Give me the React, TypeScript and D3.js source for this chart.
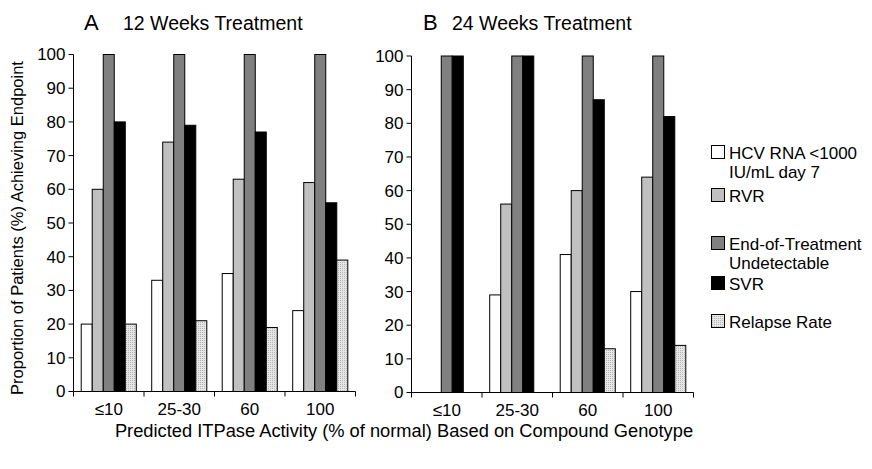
import React from "react";
import * as d3 from "d3";

const categories = ["≤10", "25-30", "60", "100"];
const seriesNames = ["HCV RNA <1000 IU/mL day 7", "RVR", "End-of-Treatment Undetectable", "SVR", "Relapse Rate"];
const legendLines = [["HCV RNA <1000", "IU/mL day 7"], ["RVR"], ["End-of-Treatment", "Undetectable"], ["SVR"], ["Relapse Rate"]];
const fills = ["#ffffff", "#c0c0c0", "#808080", "#000000", "url(#dots)"];

// values per series, per category (null = no bar)
const week12HCV = [20, 33, 35, 24];
const week12RVR = [60, 74, 63, 62];
const week12EOT = [100, 100, 100, 100];
const week12SVR = [80, 79, 77, 56];
const week12Relapse = [20, 21, 19, 39];

const week24HCV: (number | null)[] = [null, 29, 41, 30];
const week24RVR: (number | null)[] = [null, 56, 60, 64];
const week24EOT = [100, 100, 100, 100];
const week24SVR = [100, 100, 87, 82];
const week24Relapse: (number | null)[] = [null, null, 13, 14];

const yTicks = [0, 10, 20, 30, 40, 50, 60, 70, 80, 90, 100];

const font = "Arial, 'Liberation Sans', sans-serif";

function Panel({ x0, yTop, yBottom, data, letter, title, letterX, titleX }: any) {
  const x = d3.scaleBand().domain(categories).range([x0, x0 + 282]).padding(0);
  const inner = d3.scaleBand().domain(seriesNames).range([0, x.bandwidth()]).paddingInner(0).paddingOuter(0.7);
  const y = d3.scaleLinear().domain([0, 100]).range([yBottom, yTop]);
  const edges = [...categories.map((c) => x(c)!), x0 + 282];
  return (
    <g>
      <text x={letterX} y={30} fontSize={22} fontFamily={font}>{letter}</text>
      <text x={titleX} y={30} fontSize={19.5} fontFamily={font}>{title}</text>
      {categories.map((c, ci) =>
        seriesNames.map((s, si) => {
          const v = data[si][ci];
          if (v === null || v === undefined) return null;
          return (
            <rect
              key={c + s}
              x={x(c)! + inner(s)!}
              y={y(v)}
              width={inner.bandwidth()}
              height={y(0) - y(v)}
              fill={fills[si]}
              stroke="#000"
              strokeWidth={1}
            />
          );
        })
      )}
      <line x1={x0} x2={x0} y1={yTop} y2={yBottom} stroke="#000" />
      <line x1={x0} x2={x0 + 282} y1={yBottom} y2={yBottom} stroke="#000" />
      {yTicks.map((t) => (
        <g key={t}>
          <line x1={x0 - 5} x2={x0} y1={y(t)} y2={y(t)} stroke="#000" />
          <text x={x0 - 8} y={y(t)} dy="0.35em" textAnchor="end" fontSize={17} fontFamily={font}>{t}</text>
        </g>
      ))}
      {edges.map((e, i) => (
        <line key={i} x1={e} x2={e} y1={yBottom} y2={yBottom + 5} stroke="#000" />
      ))}
      {categories.map((c) => (
        <text key={c} x={x(c)! + x.bandwidth() / 2} y={yBottom + 23} textAnchor="middle" fontSize={17} fontFamily={font}>{c}</text>
      ))}
    </g>
  );
}

export default function App() {
  const dataA = [week12HCV, week12RVR, week12EOT, week12SVR, week12Relapse];
  const dataB = [week24HCV, week24RVR, week24EOT, week24SVR, week24Relapse];
  const legendY = [159, 202, 250, 290, 328];
  return (
    <svg width={872} height={469} style={{ position: "absolute", left: 0, top: 0 }}>
      <defs>
        <pattern id="dots" width={2} height={2} patternUnits="userSpaceOnUse">
          <rect width={2} height={2} fill="#e6e6e6" />
          <rect width={1} height={1} fill="#b4b4b4" />
        </pattern>
      </defs>
      <rect width={872} height={469} fill="#fff" />
      <Panel x0={73.5} yTop={54.5} yBottom={391.5} data={dataA} letter="A" title="12 Weeks Treatment" letterX={84} titleX={123} />
      <Panel x0={411.5} yTop={56} yBottom={392.5} data={dataB} letter="B" title="24 Weeks Treatment" letterX={423} titleX={452} />
      <text transform="translate(23,228) rotate(-90)" textAnchor="middle" fontSize={16.5} fontFamily={font}>
        Proportion of Patients (%) Achieving Endpoint
      </text>
      <text x={404} y={437} textAnchor="middle" fontSize={18.3} fontFamily={font}>
        Predicted ITPase Activity (% of normal) Based on Compound Genotype
      </text>
      {legendLines.map((lines, i) => (
        <g key={i}>
          <rect x={711.5} y={legendY[i] - 13.5} width={13} height={13} fill={fills[i]} stroke="#000" />
          {lines.map((l, j) => (
            <text key={j} x={729} y={legendY[i] + j * 19} fontSize={17} fontFamily={font}>{l}</text>
          ))}
        </g>
      ))}
    </svg>
  );
}
